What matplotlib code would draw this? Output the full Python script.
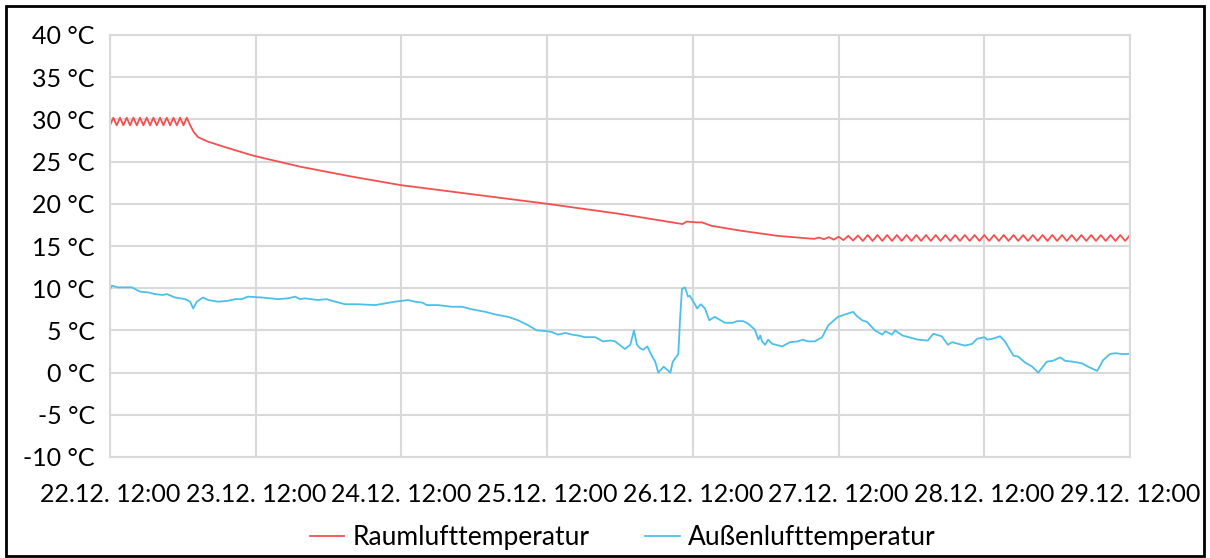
import matplotlib
matplotlib.use("Agg")
import matplotlib.pyplot as plt
from matplotlib.patches import Rectangle

# Hours since 22.12. 12:00
raum_h = [0.0, 0.55, 1.1, 1.65, 2.2, 2.75, 3.3, 3.85, 4.4, 4.95, 5.5, 6.05, 6.6, 7.15,
          7.7, 8.25, 8.8, 9.35, 9.9, 10.45, 11.0, 11.55, 12.1, 12.65,
          13.2, 13.8, 14.5, 16.0, 19.0, 23.6, 31.3, 40.0, 48.0, 50.2, 60.0, 72.0, 84.0,
          94.3, 95.0, 96.5, 97.5, 99.0, 104.0, 110.0, 115.0,
          116.0, 116.8, 117.6, 118.4, 119.2, 120.0, 120.8, 121.6, 122.4, 123.2, 124.0,
          124.8, 125.6, 126.4, 127.2, 128.0, 128.8, 129.6, 130.4, 131.2, 132.0, 132.8,
          133.6, 134.4, 135.2, 136.0, 136.8, 137.6, 138.4, 139.2, 140.0, 140.8, 141.6,
          142.4, 143.2, 144.0, 144.8, 145.6, 146.4, 147.2, 148.0, 148.8, 149.6, 150.4,
          151.2, 152.0, 152.8, 153.6, 154.4, 155.2, 156.0, 156.8, 157.6, 158.4, 159.2,
          160.0, 160.8, 161.6, 162.4, 163.2, 164.0, 164.8, 165.6, 166.4, 167.2, 168.0]
raum_t = [29.3, 30.2, 29.3, 30.2, 29.3, 30.2, 29.3, 30.2, 29.3, 30.2, 29.3, 30.2, 29.3, 30.2,
          29.3, 30.2, 29.3, 30.2, 29.3, 30.2, 29.3, 30.2, 29.3, 30.2,
          29.3, 28.5, 27.9, 27.4, 26.7, 25.7, 24.4, 23.2, 22.2, 22.0, 21.1, 20.0, 18.8,
          17.6, 17.9, 17.8, 17.8, 17.4, 16.8, 16.2, 15.9,
          15.85, 16.0, 15.8, 16.05, 15.75, 16.1, 15.7, 16.2, 15.65, 16.25, 15.6,
          16.3, 15.6, 16.3, 15.6, 16.3, 15.6, 16.3, 15.6, 16.3, 15.6, 16.3,
          15.6, 16.3, 15.6, 16.3, 15.6, 16.3, 15.6, 16.3, 15.6, 16.3, 15.6,
          16.3, 15.6, 16.3, 15.6, 16.3, 15.6, 16.3, 15.6, 16.3, 15.6, 16.3,
          15.6, 16.3, 15.6, 16.3, 15.6, 16.3, 15.6, 16.3, 15.6, 16.3, 15.6,
          16.3, 15.6, 16.3, 15.6, 16.3, 15.6, 16.3, 15.6, 16.3, 15.6, 16.3]

aussen_h = [0.0, 0.3, 1.3, 3.6, 4.9, 6.3, 7.4, 8.7, 9.4, 10.7, 12.4, 13.2, 13.7, 14.3,
            15.3, 16.2, 17.8, 19.4, 20.6, 21.7, 22.7, 25.0, 27.7, 29.3, 30.5, 31.3,
            32.1, 34.2, 35.7, 36.6, 38.7, 40.8, 43.7, 45.3, 46.9, 48.1, 49.1, 50.2,
            51.4, 52.2, 54.0, 56.3, 58.0, 59.6, 61.8, 63.4, 65.6, 67.2, 68.9, 70.3,
            72.0, 72.8, 73.8, 75.0, 76.1, 77.1, 78.2, 79.9, 81.2, 82.4, 83.2, 84.8,
            85.7, 86.3, 86.8, 87.3, 87.8, 88.5, 89.3, 89.8, 90.3, 91.2, 92.3, 92.7,
            93.6, 93.9, 94.2, 94.7, 95.2, 95.5, 96.4, 96.7, 97.3, 98.0, 98.7, 99.6,
            101.3, 102.6, 103.3, 104.3, 105.1, 106.2, 106.8, 107.1, 107.4, 107.9,
            108.4, 109.1, 110.7, 112.0, 113.3, 114.1, 115.0, 116.1, 117.3, 118.3,
            119.9, 121.1, 122.4, 123.0, 123.9, 124.7, 126.0, 127.2, 127.7, 128.8,
            129.3, 130.5, 132.1, 133.1, 134.7, 135.6, 137.0, 138.0, 138.7, 140.8,
            142.0, 142.8, 144.0, 144.5, 145.3, 146.6, 147.4, 148.8, 149.6, 150.7,
            151.9, 152.9, 154.3, 155.3, 156.5, 157.3, 158.5, 160.1, 161.1, 162.6,
            163.6, 164.7, 165.6, 166.7, 167.7, 168.0]
aussen_t = [9.8, 10.3, 10.1, 10.1, 9.6, 9.5, 9.3, 9.2, 9.3, 8.9, 8.7, 8.4, 7.6, 8.4,
            8.9, 8.6, 8.4, 8.5, 8.7, 8.7, 9.0, 8.9, 8.7, 8.8, 9.0, 8.7,
            8.8, 8.6, 8.7, 8.5, 8.1, 8.1, 8.0, 8.2, 8.4, 8.5, 8.6, 8.4,
            8.3, 8.0, 8.0, 7.8, 7.8, 7.5, 7.2, 6.9, 6.6, 6.2, 5.6, 5.0,
            4.9, 4.8, 4.5, 4.7, 4.5, 4.4, 4.2, 4.2, 3.7, 3.8, 3.7, 2.8,
            3.3, 5.0, 3.3, 2.9, 2.7, 3.1, 1.9, 1.3, 0.0, 0.7, 0.0, 1.3,
            2.2, 6.4, 9.9, 10.1, 9.0, 9.1, 8.0, 7.6, 8.1, 7.6, 6.2, 6.6,
            5.9, 5.9, 6.1, 6.1, 5.8, 5.1, 3.9, 4.4, 3.7, 3.3,
            3.9, 3.4, 3.1, 3.6, 3.7, 3.9, 3.7, 3.7, 4.2, 5.6,
            6.6, 6.9, 7.2, 6.7, 6.2, 6.0, 5.0, 4.5, 4.9, 4.5,
            5.0, 4.4, 4.1, 3.9, 3.8, 4.6, 4.3, 3.3, 3.6, 3.2,
            3.4, 4.0, 4.2, 3.9, 4.0, 4.3, 3.7, 2.0, 1.9, 1.2,
            0.7, 0.0, 1.3, 1.4, 1.8, 1.4, 1.3, 1.1, 0.7, 0.2,
            1.5, 2.2, 2.3, 2.2, 2.2, 2.3]

x_ticks = [0, 24, 48, 72, 96, 120, 144, 168]
x_labels = ["22.12. 12:00", "23.12. 12:00", "24.12. 12:00", "25.12. 12:00",
            "26.12. 12:00", "27.12. 12:00", "28.12. 12:00", "29.12. 12:00"]
y_ticks = [-10, -5, 0, 5, 10, 15, 20, 25, 30, 35, 40]
y_labels = [f"{v} °C" for v in y_ticks]
series_names = ["Raumlufttemperatur", "Außenlufttemperatur"]

plt.rcParams['font.family'] = ['Lato', 'DejaVu Sans']

W, H = 1210, 558
fig = plt.figure(figsize=(W / 100, H / 100), dpi=100)
ax = fig.add_axes([110 / W, 1 - 457 / H, 1020 / W, 422 / H])

grid_c = "#d9d9d9"
ax.plot(raum_h, raum_t, color="#f5504f", lw=1.3, solid_joinstyle="round",
        label=series_names[0])
ax.plot(aussen_h, aussen_t, color="#4cc0e8", lw=1.3, solid_joinstyle="round",
        label=series_names[1])

ax.set_xlim(0, 168)
ax.set_ylim(-10, 40)
ax.set_xticks(x_ticks)
ax.set_xticklabels(x_labels)
ax.set_yticks(y_ticks)
ax.set_yticklabels(y_labels)
ax.tick_params(length=0, labelsize=18, colors="#000000")
ax.tick_params(axis="x", pad=19)
ax.tick_params(axis="y", pad=11)
ax.grid(True, color=grid_c, lw=1.5)
ax.set_axisbelow(True)
for s in ax.spines.values():
    s.set_color(grid_c)
    s.set_linewidth(1.5)

fig.legend(loc="center", bbox_to_anchor=(623 / W, 1 - 538 / H), ncol=2, frameon=False,
           fontsize=19, handlelength=1.3, handletextpad=0.33, columnspacing=2.1)

fig.add_artist(Rectangle((6 / W, 2 / H), (W - 12) / W, (H - 8) / H,
                         transform=fig.transFigure, fill=False,
                         edgecolor="black", lw=2))

fig.savefig("out.png", dpi=100)
